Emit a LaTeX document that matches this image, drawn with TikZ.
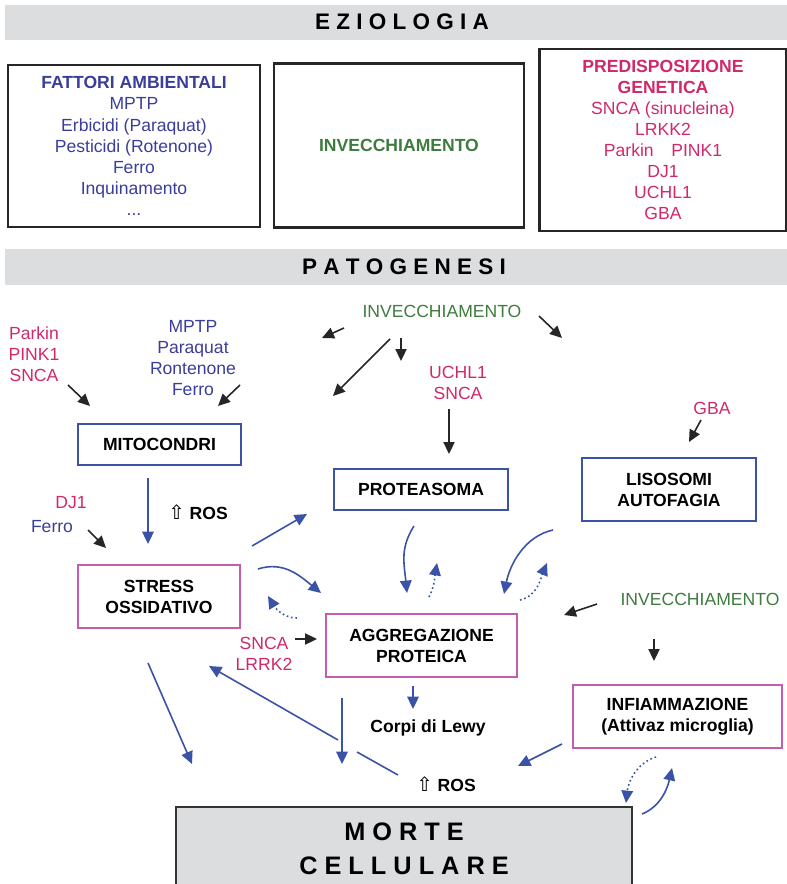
\documentclass[tikz,border=0pt]{standalone}
\usepackage{fontspec}
\setmainfont{Liberation Sans}
\newfontfamily\rosarrowfont{DejaVu Sans}
\usepackage{tikz}
\usetikzlibrary{arrows.meta, positioning, calc}

\definecolor{bandgray}{HTML}{DCDDDF}
\definecolor{txtblue}{HTML}{3B3D9B}
\definecolor{txtred}{HTML}{D0286B}
\definecolor{txtgreen}{HTML}{3E7B3E}
\definecolor{lineblue}{HTML}{3A53A6}
\definecolor{linepink}{HTML}{C25DAF}

\newcommand{\diagfont}{\fontsize{12.5}{15}\selectfont}
\newcommand{\bandfont}{\fontsize{16}{19}\selectfont\bfseries}
\newcommand{\rosup}{{\rosarrowfont\fontsize{14}{15}\selectfont ⇧}}

\begin{document}
\begin{tikzpicture}[x=0.25mm, y=-0.25mm,
  every node/.style={font=\diagfont, align=center},
  topbox/.style={draw=black!85, line width=0.7mm},
  bluebox/.style={draw=lineblue, line width=0.5mm, font=\diagfont\bfseries, inner sep=0pt},
  pinkbox/.style={draw=linepink, line width=0.5mm, font=\diagfont\bfseries, inner sep=0pt},
  blk/.style={-{Triangle[length=3mm,width=2.8mm]}, line width=0.4mm, black!85},
  blu/.style={-{Triangle[length=3.1mm,width=2.9mm]}, line width=0.4mm, lineblue},
  bludot/.style={blu, dotted}]
\useasboundingbox (0,0) rectangle (787,884);

% Eziologia
\fill[bandgray] (5,5) rectangle (787,40);
\node[font=\bandfont] (ezio) at (402,22) {E Z I O L O G I A};

\node[topbox, text=txtblue, minimum width=63mm, minimum height=40.5mm] (fattori) at (134,146)
  {\textbf{FATTORI AMBIENTALI}\\MPTP\\Erbicidi (Paraquat)\\Pesticidi (Rotenone)\\Ferro\\Inquinamento\\...};
\node[topbox, text=txtgreen, font=\diagfont\bfseries, minimum width=62.5mm, minimum height=41mm] (invbox) at (399,145.5)
  {INVECCHIAMENTO};
\node[topbox, text=txtred, minimum width=61.75mm, minimum height=45.5mm] (predis) at (663,140)
  {\textbf{PREDISPOSIZIONE}\\\textbf{GENETICA}\\SNCA (sinucleina)\\LRKK2\\Parkin\quad PINK1\\DJ1\\UCHL1\\GBA};

% Patogenesi
\fill[bandgray] (5,249) rectangle (787,285);
\node[font=\bandfont] (pato) at (404,267) {P A T O G E N E S I};

% labels
\node[text=txtred] (parkp) at (34,354) {Parkin\\PINK1\\SNCA};
\node[text=txtblue] (mptpp) at (193,358) {MPTP\\Paraquat\\Rontenone\\Ferro};
\node[text=txtgreen] (invp) at (442,311) {INVECCHIAMENTO};
\node[text=txtred] (uchp) at (458,383) {UCHL1\\SNCA};
\node[text=txtred] (gbap) at (712,408) {GBA};
\node[text=txtred] (djp) at (71,503) {DJ1};
\node[text=txtblue] (ferrop) at (52,527) {Ferro};
\node (ros1) at (198,512) {\rosup\ \textbf{ROS}};
\node[text=txtred] (sncap) at (264,654) {SNCA\\LRRK2};
\node[text=txtgreen] (invq) at (700,599) {INVECCHIAMENTO};
\node[font=\diagfont\bfseries] (lewy) at (428,728) {Corpi di Lewy};
\node (ros2) at (446,784) {\rosup\ \textbf{ROS}};

% boxes
\node[bluebox, minimum width=40.75mm, minimum height=10.25mm] (mito) at (159.5,444.5) {MITOCONDRI};
\node[bluebox, minimum width=43.5mm, minimum height=10.25mm] (prot) at (421,489.5) {PROTEASOMA};
\node[bluebox, minimum width=43.5mm, minimum height=15.75mm] (liso) at (669,489.5) {LISOSOMI\\AUTOFAGIA};
\node[pinkbox, minimum width=40.5mm, minimum height=15.75mm] (stress) at (159,596.5) {STRESS\\OSSIDATIVO};
\node[pinkbox, minimum width=47.75mm, minimum height=15.75mm] (aggr) at (421.5,645.5) {AGGREGAZIONE\\PROTEICA};
\node[pinkbox, minimum width=52.25mm, minimum height=15.75mm] (infl) at (677.5,716.5) {INFIAMMAZIONE\\(Attivaz microglia)};
\node[fill=bandgray, draw=black!80, line width=0.5mm, minimum width=114mm, minimum height=21mm,
  font=\fontsize{18}{24.2}\selectfont\bfseries] (morte) at (404,849) {M O R T E\\C E L L U L A R E};

% free ends of the ageing arrows
\coordinate (invl) at (322,338);
\coordinate (invll) at (333,396);
\coordinate (invd) at (401,361);
\coordinate (invr) at (562,338);

% black arrows
\draw[blk] ($(parkp)+(34,31)$) -- ($(mito.north west)+(13,-17)$);
\draw[blk] ($(mptpp)+(47,27)$) -- ($(mito.north east)+(-24,-17)$);
\draw[blk] ($(invp)+(-98,17)$) -- (invl);
\draw[blk] ($(invp)+(-52,28)$) -- (invll);
\draw[blk] ($(invp)+(-41,27)$) -- (invd);
\draw[blk] ($(invp)+(97,5)$) -- (invr);
\draw[blk] ($(uchp)+(-9,26)$) -- ($(prot.north)+(28,-14)$);
\draw[blk] ($(gbap)+(-11,12)$) -- ($(liso.north)+(20,-15)$);
\draw[blk] ($(ferrop)+(36,3)$) -- ($(stress.north west)+(29,-16)$);
\draw[blk] ($(sncap)+(31,-15)$) -- ($(aggr.west)+(-8,-6.5)$);
\draw[blk] ($(invq)+(-103,5)$) -- ($(aggr.north east)+(46,2)$);
\draw[blk] ($(invq)+(-46,40)$) -- ($(infl.north)+(-23.5,-23)$);

% blue arrows
\draw[blu] ($(mito.south)+(-11.5,12)$) -- ($(stress.north)+(-11,-20)$);
\draw[blu] ($(stress.north east)+(11,-18)$) -- ($(prot.south west)+(-26,3)$);
\draw[blu] ($(stress.north east)+(17,5)$) .. controls +(25,-8) and +(-22,-18) .. ($(aggr.north west)+(-4,-20)$);
\draw[bludot] ($(aggr.north west)+(-28,5)$) .. controls +(-15,0) and +(6,10) .. ($(stress.north east)+(27,32)$);
\draw[blu] ($(prot.south)+(-7,15)$) .. controls +(-14,22) and +(-3,-30) .. ($(aggr.north)+(-14.5,-20)$);
\draw[bludot] ($(aggr.north)+(7.5,-16)$) .. controls +(6,-12) and +(-2,12) .. ($(prot.south)+(16,52)$);
\draw[blu] ($(liso.south west)+(-28,8)$) .. controls +(-28,6) and +(6,-30) .. ($(aggr.north east)+(-14,-19)$);
\draw[bludot] ($(aggr.north east)+(2,-13)$) .. controls +(18,-4) and +(-6,14) .. ($(liso.south west)+(-34,41)$);
\draw[blu] ($(aggr.south)+(-8.5,8)$) -- ++(0,23);
\draw[blu] ($(stress.south)+(-11,34)$) -- ($(morte.north west)+(17,-42)$);
\draw[blu] ($(aggr.south west)+(17,20)$) -- ($(morte.north west)+(167,-42)$);
\draw[blu, -] ($(ros2)+(-48,-9)$) -- ($(ros2)+(-89,-32)$);
\draw[blu] ($(ros2)+(-108,-44)$) -- ($(stress.south east)+(-32,37)$);
\draw[blu] ($(infl.south west)+(-10,-5)$) -- ($(ros2)+(72,-18)$);
\draw[bludot] ($(infl.south west)+(84,8)$) .. controls +(-20,6) and +(2,-20) .. ($(morte.north east)+(-7,-3)$);
\draw[blu] ($(morte.north east)+(9,8)$) .. controls +(20,-8) and +(-4,18) .. ($(infl.south west)+(100,19)$);
\end{tikzpicture}
\end{document}
